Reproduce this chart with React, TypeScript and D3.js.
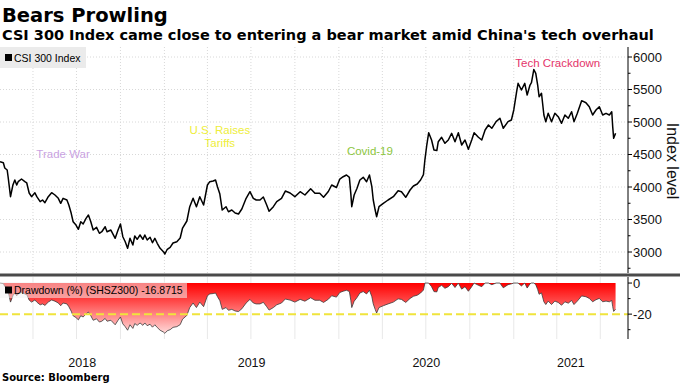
import React from 'react';
import * as d3 from 'd3';

// CSI 300 Index level
const dates = [
  '2018-01-22','2018-01-29','2018-02-01','2018-02-06','2018-02-08','2018-02-13','2018-02-18','2018-02-22','2018-02-26','2018-03-01',
  '2018-03-08','2018-03-15','2018-03-19','2018-03-24','2018-03-29','2018-04-05','2018-04-09','2018-04-16','2018-04-21','2018-04-26',
  '2018-05-03','2018-05-10','2018-05-17','2018-05-24','2018-05-29','2018-06-03','2018-06-11','2018-06-15','2018-06-20','2018-06-24',
  '2018-06-30','2018-07-05','2018-07-10','2018-07-15','2018-07-21','2018-07-26','2018-07-31','2018-08-05','2018-08-12','2018-08-18',
  '2018-08-23','2018-08-30','2018-09-03','2018-09-11','2018-09-20','2018-09-26','2018-10-01','2018-10-06','2018-10-11','2018-10-16',
  '2018-10-21','2018-10-27','2018-10-31','2018-11-05','2018-11-11','2018-11-17','2018-11-21','2018-11-26','2018-12-02','2018-12-07',
  '2018-12-12','2018-12-17','2018-12-23','2018-12-30','2019-01-02','2019-01-07','2019-01-13','2019-01-19','2019-01-27','2019-02-03',
  '2019-02-08','2019-02-17','2019-02-23','2019-03-02','2019-03-09','2019-03-16','2019-03-24','2019-04-01','2019-04-06','2019-04-13',
  '2019-04-18','2019-04-22','2019-04-27','2019-05-02','2019-05-10','2019-05-15','2019-05-22','2019-05-29','2019-06-05','2019-06-12',
  '2019-06-21','2019-06-29','2019-07-06','2019-07-12','2019-07-20','2019-07-27','2019-08-03','2019-08-08','2019-08-17','2019-08-24',
  '2019-09-03','2019-09-11','2019-09-21','2019-10-01','2019-10-12','2019-10-22','2019-11-03','2019-11-12','2019-11-22','2019-11-30',
  '2019-12-10','2019-12-17','2019-12-27','2020-01-03','2020-01-10','2020-01-17','2020-01-23','2020-01-26','2020-01-28','2020-02-02',
  '2020-02-08','2020-02-14','2020-02-21','2020-02-28','2020-03-05','2020-03-10','2020-03-13','2020-03-17','2020-03-20','2020-03-25',
  '2020-04-03','2020-04-13','2020-04-24','2020-05-04','2020-05-11','2020-05-20','2020-05-29','2020-06-05','2020-06-13','2020-06-20',
  '2020-06-26','2020-06-29','2020-07-03','2020-07-07','2020-07-13','2020-07-18','2020-07-24','2020-07-27','2020-08-03','2020-08-10',
  '2020-08-17','2020-08-24','2020-08-31','2020-09-07','2020-09-14','2020-09-21','2020-09-28','2020-10-05','2020-10-10','2020-10-19',
  '2020-10-26','2020-11-02','2020-11-09','2020-11-16','2020-11-25','2020-12-03','2020-12-10','2020-12-20','2020-12-27','2021-01-01',
  '2021-01-07','2021-01-10','2021-01-17','2021-01-24','2021-01-29','2021-02-04','2021-02-07','2021-02-12','2021-02-16','2021-02-20',
  '2021-02-23','2021-02-28','2021-03-05','2021-03-09','2021-03-14','2021-03-21','2021-03-28','2021-04-04','2021-04-11','2021-04-18',
  '2021-04-25','2021-05-02','2021-05-07','2021-05-14','2021-05-23','2021-06-01','2021-06-08','2021-06-15','2021-06-22','2021-06-29',
  '2021-07-06','2021-07-13','2021-07-20','2021-07-25','2021-07-27','2021-07-29','2021-08-02',
];

const indexValues = [
  4389,4374,4292,4262,4154,3851,4031,4108,4031,4082,
  4123,4082,4062,3908,3851,3912,3851,3774,3800,3758,
  3851,3912,3877,3826,3749,3826,3800,3723,3595,3466,
  3415,3349,3466,3431,3518,3569,3466,3338,3380,3288,
  3312,3389,3312,3338,3211,3338,3431,3235,3158,3057,
  3211,3108,3246,3195,3262,3195,3262,3185,3226,3143,
  3211,3134,3057,3005,2969,3042,3072,3138,3158,3215,
  3369,3477,3697,3826,3697,3851,3723,4031,4082,4092,
  4108,4005,3892,3646,3697,3620,3646,3600,3585,3662,
  3826,3928,3826,3800,3800,3846,3723,3626,3697,3774,
  3826,3938,3908,3851,3928,3877,3974,3903,3903,3842,
  3931,4031,3992,4123,4158,4185,4149,3903,3697,3877,
  3980,4108,4149,4082,4185,4005,3800,3646,3543,3697,
  3749,3800,3851,3943,3928,3842,3954,4015,4046,4108,
  4192,4415,4646,4835,4723,4569,4560,4697,4765,4672,
  4723,4826,4697,4835,4646,4723,4580,4723,4835,4765,
  4723,4877,4954,4903,5005,5057,4903,5005,5031,5185,
  5466,5595,5492,5595,5415,5569,5605,5808,5749,5569,
  5389,5442,5108,5005,5134,5005,5134,5082,4980,5108,
  5057,5158,5005,5134,5328,5297,5235,5108,5185,5235,
  5108,5134,5108,5158,4928,4749,4828,
];

const topTicks = [3000, 3500, 4000, 4500, 5000, 5500, 6000];
const topMinorTicks = [2750, 3250, 3750, 4250, 4750, 5250, 5750];
const bottomTicks = [0, -20];
const bottomMinorTicks = [-10, -30];
const years = [2018, 2019, 2020, 2021];
const thresholdLevel = -20;
const drawdownLegendValue = '-16.8715';

const annLabels = ['Trade War', 'U.S. Raises|Tariffs', 'Covid-19', 'Tech Crackdown'];
const annDates = ['2018-06-03', '2019-04-27', '2020-03-06', '2021-04-03'];
const annLevels = [4446, 4815, 4492, 5846];
const annColors = ['#caa3e2', '#eeee3a', '#8cc63e', '#e4356a'];

const W = 680;
const H = 383;

export default function App() {
  const parse = d3.timeParse('%Y-%m-%d');
  const data = dates.map((d, i) => ({ date: parse(d) as Date, value: indexValues[i] }));
  // drawdown from running peak (definition of the lower-panel series)
  let peak = -Infinity;
  const dd = data.map((p) => {
    peak = Math.max(peak, p.value);
    return { date: p.date, dd: (p.value / peak - 1) * 100 };
  });

  const plotR = 628;
  const x = d3.scaleTime().domain([parse('2018-01-22') as Date, parse('2021-08-28') as Date]).range([0, plotR]);
  const yT = d3.scaleLinear().domain([2677, 6154]).range([273, 47]);
  const yB = d3.scaleLinear().domain([-36, 3.9]).range([339, 277]);

  const line = d3.line<{ date: Date; value: number }>().x((d) => x(d.date)).y((d) => yT(d.value));
  const area = d3.area<{ date: Date; dd: number }>().x((d) => x(d.date)).y0(yB(0)).y1((d) => yB(d.dd));
  const ddLine = d3.line<{ date: Date; dd: number }>().x((d) => x(d.date)).y((d) => yB(d.dd));

  const quarters = x.ticks(d3.timeMonth.every(3) as any).filter((d) => x(d) > 1 && x(d) < plotR - 1);

  const yearPos = years.map((yr) => {
    const s = Math.max(0, x(new Date(yr, 0, 1)));
    const e = Math.min(plotR, x(new Date(yr + 1, 0, 1)));
    return (s + e) / 2;
  });

  const font = "'Liberation Sans', Arial, sans-serif";
  const boldFont = "'DejaVu Sans', Verdana, sans-serif";

  return (
    <svg width={W} height={H} style={{ position: 'absolute', left: 0, top: 0, background: '#fff' }} fontFamily={font}>
      <defs>
        <linearGradient id="ddgrad" gradientUnits="userSpaceOnUse" x1="0" x2="0" y1={yB(0)} y2={yB(-34)}>
          <stop offset="0" stopColor="#ff0000" />
          <stop offset="0.35" stopColor="#ff4a4a" />
          <stop offset="1" stopColor="#ffe6e6" />
        </linearGradient>
        <clipPath id="clipT"><rect x={0} y={47} width={plotR} height={226} /></clipPath>
        <clipPath id="clipB"><rect x={0} y={277} width={plotR} height={62} /></clipPath>
      </defs>

      {/* Titles */}
      <text x={2} y={22} fontFamily={boldFont} fontWeight="bold" fontSize={19.5} fill="#000">Bears Prowling</text>
      <text x={2} y={40} fontFamily={boldFont} fontWeight="bold" fontSize={14.5} fill="#000">CSI 300 Index came close to entering a bear market amid China's tech overhaul</text>

      {/* Top panel grid */}
      {topTicks.map((t) => (
        <line key={'hg' + t} x1={0} x2={plotR} y1={yT(t)} y2={yT(t)} stroke="#d8d8d8" strokeWidth={1} strokeDasharray="1,2" />
      ))}
      {quarters.map((q, i) => (
        <line key={'vg' + i} x1={x(q)} x2={x(q)} y1={47} y2={273} stroke="#d8d8d8" strokeWidth={1} strokeDasharray="1,2" />
      ))}
      {quarters.map((q, i) => (
        <line key={'vgb' + i} x1={x(q)} x2={x(q)} y1={277} y2={339} stroke="#e8e8e8" strokeWidth={1} />
      ))}

      {/* Annotations */}
      {annLabels.map((lab, i) => {
        const parts = lab.split('|');
        const ax = x(parse(annDates[i]) as Date);
        const ay = yT(annLevels[i]);
        return (
          <text key={'ann' + i} x={ax} y={ay} textAnchor="middle" fontSize={11.5} fill={annColors[i]}>
            {parts.map((p, j) => (
              <tspan key={j} x={ax} dy={j === 0 ? 0 : 13}>{p}</tspan>
            ))}
          </text>
        );
      })}

      {/* Index line */}
      <path d={line(data) || ''} fill="none" stroke="#000" strokeWidth={1.5} strokeLinejoin="round" clipPath="url(#clipT)" />

      {/* Top legend */}
      <rect x={0} y={47} width={86} height={21} fill="#ebebeb" />
      <rect x={5} y={54} width={7} height={7} fill="#000" />
      <text x={14} y={61.5} fontSize={10.5} fill="#000">CSI 300 Index</text>

      {/* Right axis top */}
      <line x1={plotR} x2={plotR} y1={47} y2={273} stroke="#000" strokeWidth={1} />
      {topTicks.map((t) => (
        <g key={'tt' + t}>
          <line x1={plotR} x2={plotR + 4} y1={yT(t)} y2={yT(t)} stroke="#000" />
          <text x={plotR + 5} y={yT(t)} dy="0.35em" fontSize={13} fill="#111">{t}</text>
        </g>
      ))}
      {topMinorTicks.map((t) => (
        <line key={'tm' + t} x1={plotR} x2={plotR + 2.5} y1={yT(t)} y2={yT(t)} stroke="#000" />
      ))}
      <text transform={`translate(671,161) rotate(90)`} textAnchor="middle" dominantBaseline="middle" fontSize={16} fill="#111">Index level</text>

      {/* Separator */}
      <rect x={0} y={273.5} width={W} height={3} fill="#4a4a4a" />

      {/* Drawdown panel */}
      <g clipPath="url(#clipB)">
        <path d={area(dd) || ''} fill="url(#ddgrad)" stroke="none" />
        <path d={ddLine(dd) || ''} fill="none" stroke="#3a3a3a" strokeWidth={0.8} />
      </g>
      <line x1={0} x2={plotR} y1={yB(thresholdLevel)} y2={yB(thresholdLevel)} stroke="#f0e43c" strokeWidth={2} strokeDasharray="8,4" />

      {/* Bottom legend */}
      <rect x={0} y={282} width={187} height={16} fill="#f2f2f2" fillOpacity={0.55} />
      <rect x={5} y={286.5} width={7} height={7} fill="#000" />
      <text x={14} y={294} fontSize={10.5} fill="#000">{`Drawdown (%) (SHSZ300) ${drawdownLegendValue}`}</text>

      {/* Right axis bottom */}
      <line x1={plotR} x2={plotR} y1={277} y2={339} stroke="#000" strokeWidth={1} />
      {bottomTicks.map((t) => (
        <g key={'bt' + t}>
          <line x1={plotR} x2={plotR + 4} y1={yB(t)} y2={yB(t)} stroke="#000" />
          <text x={plotR + 5} y={yB(t)} dy="0.35em" fontSize={13} fill="#111">{t}</text>
        </g>
      ))}
      {bottomMinorTicks.map((t) => (
        <line key={'bm' + t} x1={plotR} x2={plotR + 2.5} y1={yB(t)} y2={yB(t)} stroke="#000" />
      ))}

      {/* X axis year labels */}
      {years.map((yr, i) => (
        <text key={'yr' + yr} x={yearPos[i]} y={367} textAnchor="middle" fontSize={12.5} fill="#111">{yr}</text>
      ))}

      {/* Source */}
      <text x={2} y={381} fontFamily={boldFont} fontWeight="bold" fontSize={10} fill="#000">Source: Bloomberg</text>
    </svg>
  );
}
